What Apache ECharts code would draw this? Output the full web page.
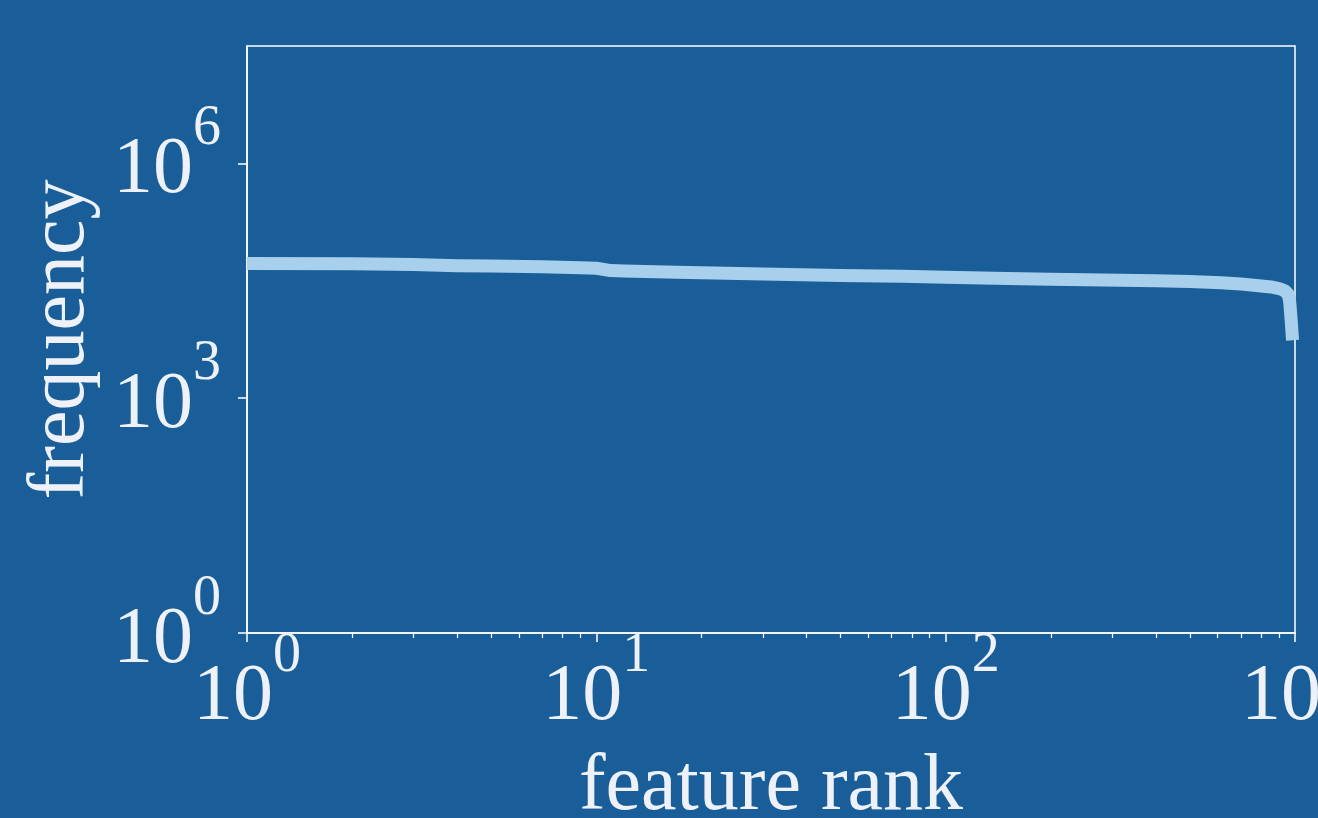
<!DOCTYPE html>
<html>
<head>
<meta charset="utf-8">
<script src="https://cdn.jsdelivr.net/npm/echarts@6/dist/echarts.min.js"></script>
<style>
  html, body { margin: 0; padding: 0; background: #1a5e99; }
  #chart { width: 1318px; height: 818px; }
</style>
</head>
<body>
<div id="chart"></div>
<script>
// Rank / frequency curve of the features
const ranks = [1, 2, 3, 4, 5, 7, 9, 10, 11, 12, 17, 30, 50, 75, 100, 150, 200, 317, 400, 500, 614, 700, 750, 853, 900, 935, 955, 965, 975, 984];
const frequencies = [52500, 52100, 51100, 49400, 48700, 47900, 46400, 45700, 42700, 42100, 40600, 38500, 37000, 36100, 35000, 33900, 33000, 32100, 31600, 30900, 29900, 28700, 27900, 26400, 25200, 23600, 21300, 17800, 9900, 5500];

// Tick positions
const xMajorTicks = [1, 10, 100, 1000];
const xMinorTicks = [2, 3, 4, 5, 6, 7, 8, 9, 20, 30, 40, 50, 60, 70, 80, 90, 200, 300, 400, 500, 600, 700, 800, 900];
const yMajorTicks = [1, 1000, 1000000];

const BG = '#1a5e99';
const FG = '#eef2f8';
const LINE = '#a8cfec';
const FONT = '"Liberation Serif", "Times New Roman", serif';

const seriesData = ranks.map((r, i) => [r, frequencies[i]]);

// "10" with the exponent raised as a superscript
function powLabel(value) {
  const e = Math.round(Math.log10(value));
  return '{b|10}{s|' + e + '}';
}

const powRich = {
  b: { fontFamily: FONT, fontSize: 80, color: FG, padding: [30, 0, 0, 0], verticalAlign: 'bottom' },
  s: { fontFamily: FONT, fontSize: 56, color: FG, verticalAlign: 'top' }
};

const chart = echarts.init(document.getElementById('chart'), null, { renderer: 'canvas' });

chart.setOption({
  backgroundColor: BG,
  animation: false,
  grid: {
    left: 247, right: 23, top: 46, bottom: 185,
    containLabel: false, outerBoundsMode: 'none',
    show: true, borderColor: '#ffffff', borderWidth: 1.5, backgroundColor: 'transparent'
  },
  xAxis: [
    {
      type: 'log', logBase: 10, min: 1, max: 1000,
      name: 'feature rank', nameLocation: 'middle', nameGap: 115,
      nameTextStyle: { fontFamily: FONT, fontSize: 80, color: FG },
      axisLine: { show: true, lineStyle: { color: '#ffffff', width: 1.5 } },
      axisTick: { show: true, customValues: xMajorTicks, length: 9, lineStyle: { color: '#ffffff', width: 1.5 } },
      axisLabel: { customValues: xMajorTicks, formatter: powLabel, rich: powRich, margin: -5, showMinLabel: true, showMaxLabel: true, hideOverlap: false },
      splitLine: { show: false }, minorTick: { show: false }
    },
    {
      type: 'log', logBase: 10, min: 1, max: 1000, position: 'bottom',
      axisLine: { show: false },
      axisTick: { show: true, customValues: xMinorTicks, length: 5, lineStyle: { color: '#ffffff', width: 1.2 } },
      axisLabel: { show: false },
      splitLine: { show: false }
    }
  ],
  yAxis: {
    type: 'log', logBase: 10, min: 1, max: Math.pow(10, 7.5),
    name: 'frequency', nameLocation: 'middle', nameGap: 142,
    nameTextStyle: { fontFamily: FONT, fontSize: 80, color: FG },
    axisLine: { show: true, lineStyle: { color: '#ffffff', width: 1.5 } },
    axisTick: { show: true, customValues: yMajorTicks, length: 9, lineStyle: { color: '#ffffff', width: 1.5 } },
    axisLabel: { customValues: yMajorTicks, formatter: powLabel, rich: powRich, margin: 26, padding: [0, 0, 14, 0], showMinLabel: true, showMaxLabel: true, hideOverlap: false },
    splitLine: { show: false }, minorTick: { show: false }
  },
  series: [{
    type: 'line',
    xAxisIndex: 0, yAxisIndex: 0,
    data: seriesData,
    showSymbol: false,
    symbol: 'none',
    smooth: false,
    lineStyle: { color: LINE, width: 13, join: 'round', cap: 'butt' },
    clip: false
  }]
});
</script>
</body>
</html>
